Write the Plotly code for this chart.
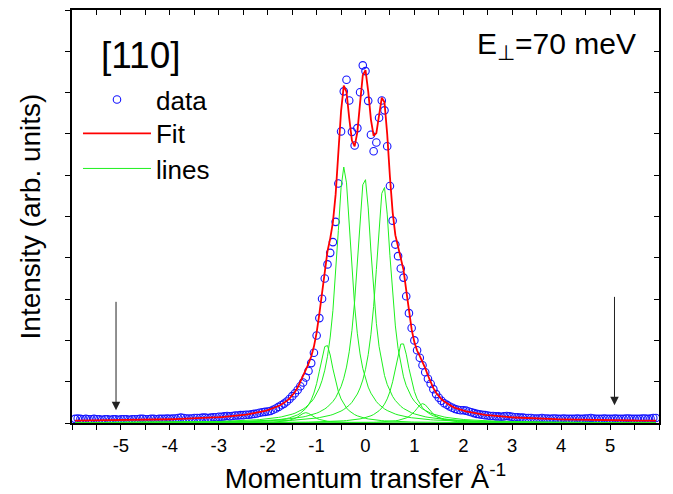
import numpy as np
import plotly.graph_objects as go

# Momentum-transfer grid step (1/Angstrom); samples run from -107 to +107 steps
step = 0.0555

# Measured intensity, left wing -> right wing
data_left_tail = [0.10, 0.11, 0.10, 0.09, 0.10, 0.09, 0.09, 0.10, 0.09, 0.09,
                  0.08, 0.09, 0.09, 0.08, 0.09, 0.09, 0.08, 0.09,
                  0.09, 0.09, 0.08, 0.09, 0.09, 0.09, 0.10, 0.10, 0.09, 0.09,
                  0.10, 0.10, 0.09, 0.10, 0.10, 0.10, 0.11, 0.10, 0.11, 0.11,
                  0.12, 0.13, 0.12, 0.11, 0.11, 0.11, 0.12, 0.12, 0.12, 0.13,
                  0.13, 0.12, 0.13, 0.14, 0.14,
                  0.15, 0.15, 0.16, 0.17, 0.16, 0.17, 0.18, 0.18, 0.19, 0.19,
                  0.20, 0.20, 0.21, 0.22, 0.23, 0.25, 0.26, 0.27, 0.28]
data_left_wing = [0.29, 0.32, 0.35, 0.39, 0.43, 0.47, 0.52, 0.58, 0.65, 0.72,
                  0.80, 0.89, 0.98, 1.10, 1.26, 1.45, 1.70, 2.12, 2.54, 3.01,
                  3.50, 3.84, 4.12, 4.38]
data_peak = [4.87, 5.80, 7.06, 8.03, 8.31, 7.81, 7.05, 6.72, 7.14, 8.01,
             8.66, 8.52, 7.80, 6.98, 6.58, 6.79, 7.39, 7.81, 7.57, 6.70,
             5.74, 4.90]
data_right_wing = [4.32, 4.04, 3.74, 3.52, 3.07, 2.66, 2.30, 2.00, 1.76, 1.58,
                   1.40, 1.23, 1.07, 0.95, 0.82, 0.70, 0.61, 0.54, 0.48, 0.44,
                   0.40, 0.37, 0.34, 0.32, 0.31]
data_right_tail = [0.31, 0.30, 0.28, 0.26, 0.24, 0.22, 0.21, 0.20, 0.19, 0.18,
                   0.17, 0.17, 0.16, 0.16, 0.15, 0.16, 0.17, 0.16, 0.15, 0.14,
                   0.14, 0.13, 0.13, 0.12, 0.12,
                   0.12, 0.11, 0.11, 0.11, 0.12, 0.11, 0.11, 0.10, 0.11, 0.11,
                   0.10, 0.10, 0.11, 0.10, 0.10, 0.10, 0.10, 0.11, 0.10, 0.10,
                   0.11, 0.11, 0.12, 0.11, 0.10, 0.10, 0.10, 0.11, 0.10, 0.10,
                   0.10, 0.11, 0.10, 0.10, 0.10, 0.11, 0.11, 0.10, 0.10, 0.10,
                   0.10, 0.11, 0.11, 0.10, 0.11, 0.12, 0.12]

# Lorentzian diffraction lines: centre, height, half-width
line_centers = [-1.22, -0.80, -0.44, -0.02, 0.37, 0.75, 1.17]
line_heights = [0.25, 1.90, 6.20, 5.95, 5.75, 1.95, 0.47]
line_widths = [0.20, 0.20, 0.20, 0.20, 0.20, 0.20, 0.20]
background = 0.03

# x-axis tick labels (plain hyphen minus signs)
tick_values = [-5, -4, -3, -2, -1, 0, 1, 2, 3, 4, 5]
tick_labels = ["-5", "-4", "-3", "-2", "-1", "0", "1", "2", "3", "4", "5"]

intensity = np.array(data_left_tail + data_left_wing + data_peak
                     + data_right_wing + data_right_tail)
k = np.arange(len(intensity)) - 107
q = k * step


def lorentz(x, c, h, w):
    return h / (1.0 + ((x - c) / w) ** 2)


components = [lorentz(q, c, h, w) for c, h, w in zip(line_centers, line_heights, line_widths)]
fit = background + np.sum(components, axis=0)

FONT = "Arial, Liberation Sans, sans-serif"
GREEN = "rgb(30,240,30)"
BLUE = "rgb(20,20,255)"

fig = go.Figure()
fig.add_trace(go.Scatter(
    x=q, y=intensity, mode="markers", name="data", legend="legend",
    marker=dict(symbol="circle-open", size=7.5, color=BLUE,
                line=dict(width=1.1, color=BLUE)),
))
fig.add_trace(go.Scatter(
    x=q, y=fit, mode="lines", name="Fit", legend="legend2",
    line=dict(color="rgb(255,0,0)", width=1.8),
))
for i, comp in enumerate(components):
    fig.add_trace(go.Scatter(
        x=q, y=comp, mode="lines", name="lines", legend="legend3",
        legendgroup="lines", showlegend=(i == 0),
        line=dict(color=GREEN, width=1),
    ))
# anchor trace for the mirrored top/right axes
fig.add_trace(go.Scatter(x=[None], y=[None], xaxis="x2", yaxis="y2",
                         showlegend=False, hoverinfo="skip"))

axis_common = dict(showgrid=False, zeroline=False, showline=True,
                   linecolor="black", linewidth=1.5, tickcolor="black",
                   tickwidth=1, ticklen=5, automargin=False)

legend_common = dict(x=0.0102, xanchor="left", yanchor="top",
                     bgcolor="rgba(0,0,0,0)", borderwidth=0,
                     font=dict(size=26), itemwidth=68)

fig.update_layout(
    width=673, height=494,
    margin=dict(l=72, r=14, t=10, b=71),
    paper_bgcolor="white", plot_bgcolor="white",
    font=dict(family=FONT, color="black"),
    xaxis=dict(range=[-6.0, 6.0], tickmode="array", tickvals=tick_values,
               ticktext=tick_labels,
               ticks="outside", tickfont=dict(size=18.5),
               minor=dict(ticks="outside", dtick=0.5, tick0=0, ticklen=5,
                          tickcolor="black", tickwidth=1),
               title=dict(text="Momentum transfer Å<sup>-1</sup>",
                          font=dict(size=27.5), standoff=17),
               **axis_common),
    xaxis2=dict(range=[-6.0, 6.0], overlaying="x", side="top", anchor="y2",
                tick0=0, dtick=0.5, ticks="inside", showticklabels=False,
                **axis_common),
    yaxis=dict(range=[0, 10], dtick=1, ticks="outside", showticklabels=False,
               title=dict(text="Intensity (arb. units)", font=dict(size=28),
                          standoff=16),
               **axis_common),
    yaxis2=dict(range=[0, 10], overlaying="y", side="right", anchor="x2",
                dtick=1, ticks="inside", showticklabels=False,
                **axis_common),
    legend=dict(y=0.840, **legend_common),
    legend2=dict(y=0.758, **legend_common),
    legend3=dict(y=0.673, **legend_common),
    showlegend=True,
)

fig.add_annotation(text="[110]", xref="paper", yref="paper",
                   x=0.1175, y=0.891, xanchor="center", yanchor="middle",
                   showarrow=False, font=dict(size=37))
fig.add_annotation(text="E<sub>⊥</sub>=70 meV", xref="paper", yref="paper",
                   x=0.826, y=0.915, xanchor="center", yanchor="middle",
                   showarrow=False, font=dict(size=30))

# markers for the integration limits
for xa, y_tip, y_tail in [(-5.1, 0.31, 2.97), (5.09, 0.43, 3.09)]:
    fig.add_annotation(x=xa, y=y_tip, ax=xa, ay=y_tail, xref="x", yref="y",
                       axref="x", ayref="y", text="", showarrow=True,
                       arrowhead=2, arrowsize=1.7, arrowwidth=1,
                       arrowcolor="#222222")

fig.write_html("out.html")
